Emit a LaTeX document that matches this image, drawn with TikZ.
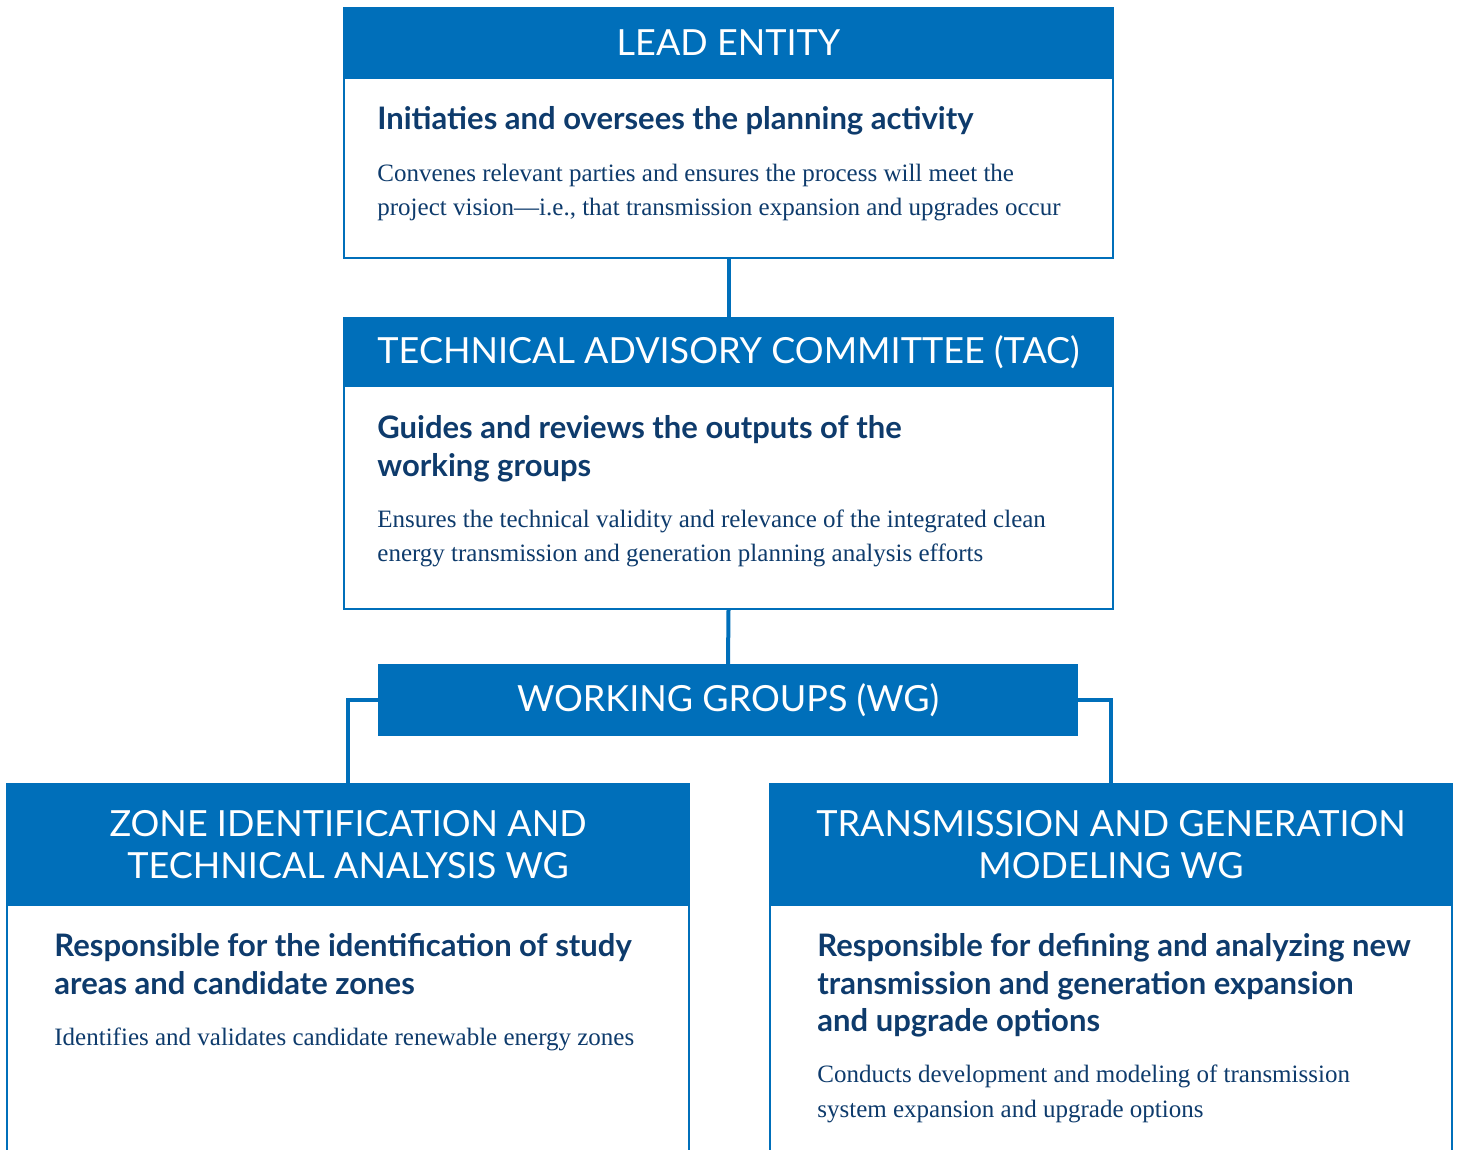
\documentclass[tikz,border=0pt]{standalone}
\usepackage{fontspec}
\setmainfont{Liberation Serif}
\newfontfamily\hdrfont{Lato}
\definecolor{wgblue}{HTML}{006FBA}
\definecolor{navy}{HTML}{0E3B6C}
\begin{document}
\begin{tikzpicture}[x=0.5pt,y=-0.5pt,
  hdr/.style={fill=wgblue, draw=wgblue, line width=1pt, inner sep=0pt, text=white,
    font=\hdrfont\fontsize{18}{21}\selectfont, align=center},
  frame/.style={draw=wgblue, line width=1.2pt, inner sep=0pt, fill=white},
  head/.style={anchor=base west, inner sep=0pt, text=navy,
    font=\hdrfont\bfseries\fontsize{15.5}{19}\selectfont},
  desc/.style={anchor=base west, inner sep=0pt, text=navy,
    font=\fontsize{12.5}{17}\selectfont},
  link/.style={draw=wgblue, line width=2pt}]
\useasboundingbox[fill=white] (0,0) rectangle (1458,1150);
\clip (0,0) rectangle (1458,1150);
\node[frame, minimum width=384.5pt, minimum height=90pt] (leadbody) at (728.5,168) {};
\node[hdr, minimum width=384.5pt, minimum height=35pt] (leadhdr) at (728.5,43) {LEAD ENTITY};
\node[frame, minimum width=384.5pt, minimum height=111.5pt] (tacbody) at (728.5,497.5) {};
\node[hdr, minimum width=384.5pt, minimum height=34pt] (tachdr) at (728.5,352) {TECHNICAL ADVISORY COMMITTEE (TAC)};
\node[hdr, minimum width=349pt, minimum height=35pt] (wghdr) at (728,700) {WORKING GROUPS (WG)};
\node[frame, minimum width=341pt, minimum height=132.5pt] (lbody) at (348,1037.5) {};
\node[hdr, minimum width=341pt, minimum height=60.5pt] (lhdr) at (348,844.5) {ZONE IDENTIFICATION AND\\TECHNICAL ANALYSIS WG};
\node[frame, minimum width=341pt, minimum height=132.5pt] (rbody) at (1111,1037.5) {};
\node[hdr, minimum width=341pt, minimum height=60.5pt] (rhdr) at (1111,844.5) {TRANSMISSION AND GENERATION\\MODELING WG};
\draw[link] (leadbody.south) -- (tachdr.north);
\draw[link] (tacbody.south) -- (wghdr.north);
\draw[link] (wghdr.west) -| (lhdr.north);
\draw[link] (wghdr.east) -| (rhdr.north);
% texts
\node[head] (leadh) at (377,130) {Initiaties and oversees the planning activity};
\node[desc] (leadd1) at (377,182) {Convenes relevant parties and ensures the process will meet the};
\node[desc] (leadd2) at (377,216) {project vision—i.e., that transmission expansion and upgrades occur};
\node[head] (tach1) at (377,438) {Guides and reviews the outputs of the};
\node[head] (tach2) at (377,476) {working groups};
\node[desc] (tacd1) at (377,527) {Ensures the technical validity and relevance of the integrated clean};
\node[desc] (tacd2) at (377,561) {energy transmission and generation planning analysis efforts};
\node[head] (lh1) at (54,956) {Responsible for the identification of study};
\node[head] (lh2) at (54,994) {areas and candidate zones};
\node[desc] (ld1) at (54,1045) {Identifies and validates candidate renewable energy zones};
\node[head] (rh1) at (817,956) {Responsible for defining and analyzing new};
\node[head] (rh2) at (817,994) {transmission and generation expansion};
\node[head] (rh3) at (817,1031) {and upgrade options};
\node[desc] (rd1) at (817,1082) {Conducts development and modeling of transmission};
\node[desc] (rd2) at (817,1117) {system expansion and upgrade options};
\end{tikzpicture}
\end{document}
